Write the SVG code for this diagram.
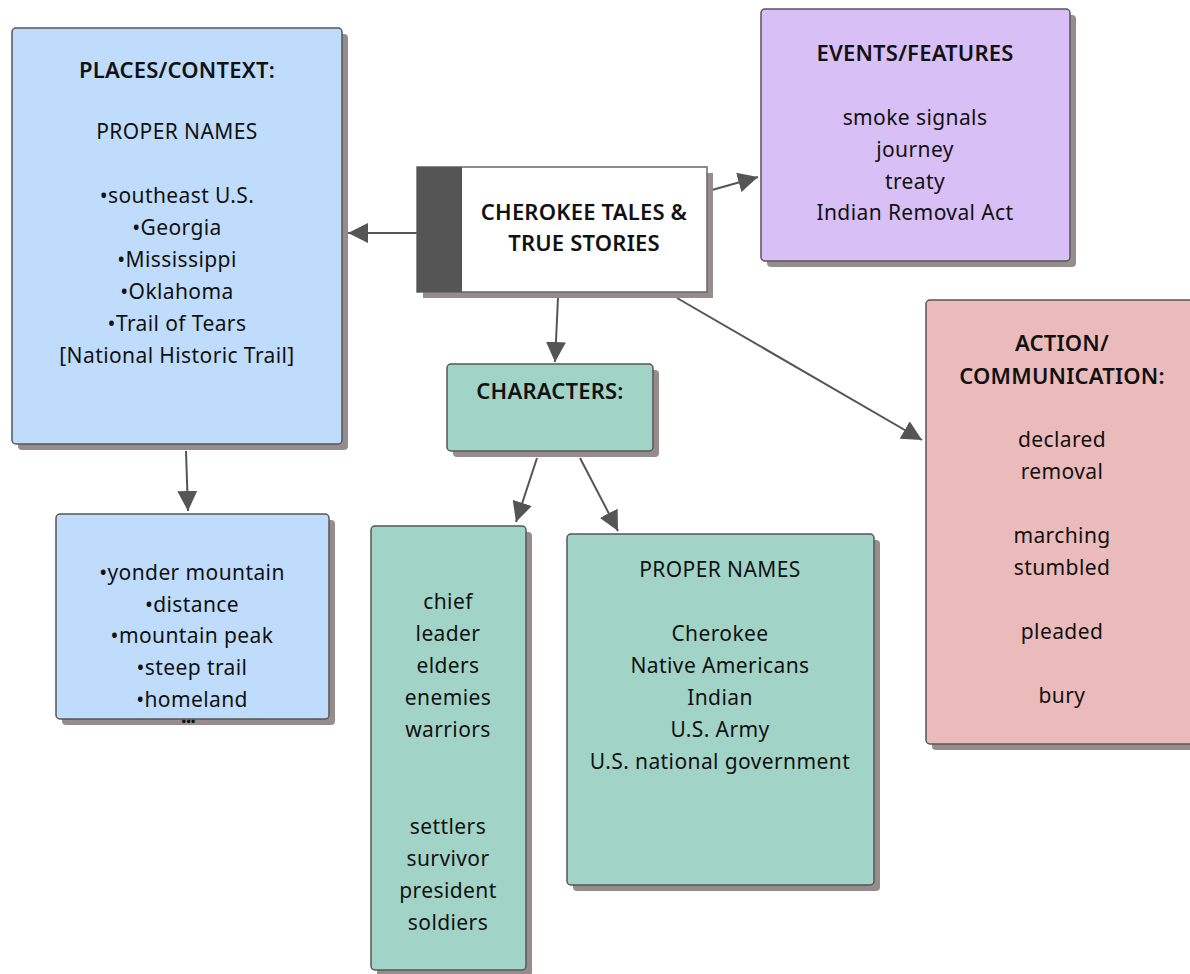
<svg xmlns="http://www.w3.org/2000/svg" width="1190" height="974" viewBox="0 0 1190 974">
<defs>
<marker id="ah" viewBox="0 0 20 20" refX="20" refY="10" markerWidth="20" markerHeight="20" markerUnits="userSpaceOnUse" orient="auto">
<path d="M0,0 L20,10 L0,20 Z" fill="#555"/>
</marker>
</defs>
<style>
.sh{fill:#968c8c}
.box{stroke:#555;stroke-width:1.5}
.t{font-family:"Noto Sans",Lato,sans-serif;font-size:21px;letter-spacing:0.4px;fill:#111;text-anchor:middle}
.h{font-weight:600;font-size:22px;letter-spacing:0.2px}
.c{stroke:#555;stroke-width:2;fill:none;marker-end:url(#ah)}
</style>
<rect width="1190" height="974" fill="#fff"/>
<g id="connectors">
<line class="c" x1="417" y1="233" x2="348" y2="233"/>
<line class="c" x1="712" y1="190" x2="758" y2="177"/>
<line class="c" x1="558" y1="298" x2="555" y2="362"/>
<line class="c" x1="677" y1="298" x2="922" y2="440"/>
<line class="c" x1="186" y1="451" x2="188" y2="511"/>
<line class="c" x1="537" y1="458" x2="516" y2="522"/>
<line class="c" x1="580" y1="458" x2="618" y2="531"/>
</g>
<g id="places">
<rect class="sh" x="18" y="34" width="330" height="416" rx="4"/>
<rect class="box" x="12" y="28" width="330" height="416" rx="4" fill="#bfdcfd"/>
<text class="t h" x="177" y="78">PLACES/CONTEXT:</text>
<text class="t" x="177" y="139">PROPER NAMES</text>
<text class="t" x="177" y="203">•southeast U.S.</text>
<text class="t" x="177" y="235">•Georgia</text>
<text class="t" x="177" y="267">•Mississippi</text>
<text class="t" x="177" y="299">•Oklahoma</text>
<text class="t" x="177" y="331">•Trail of Tears</text>
<text class="t" x="177" y="363">[National Historic Trail]</text>
</g>
<g id="center">
<rect class="sh" x="423" y="173" width="290" height="125"/>
<rect x="417" y="167" width="290" height="125" fill="#fff" stroke="#666" stroke-width="1.5"/>
<rect x="417" y="167" width="45" height="125" fill="#555"/>
<text class="t h" x="584" y="220">CHEROKEE TALES &amp;</text>
<text class="t h" x="584" y="251">TRUE STORIES</text>
</g>
<g id="events">
<rect class="sh" x="767" y="15" width="309" height="252" rx="4"/>
<rect class="box" x="761" y="9" width="309" height="252" rx="4" fill="#d8bff6"/>
<text class="t h" x="915" y="61">EVENTS/FEATURES</text>
<text class="t" x="915" y="125">smoke signals</text>
<text class="t" x="915" y="157">journey</text>
<text class="t" x="915" y="189">treaty</text>
<text class="t" x="915" y="220">Indian Removal Act</text>
</g>
<g id="action">
<rect class="sh" x="932" y="306" width="270" height="444" rx="4"/>
<rect class="box" x="926" y="300" width="270" height="444" rx="4" fill="#ebbaba"/>
<text class="t h" x="1062" y="351">ACTION/</text>
<text class="t h" x="1062" y="384">COMMUNICATION:</text>
<text class="t" x="1062" y="447">declared</text>
<text class="t" x="1062" y="479">removal</text>
<text class="t" x="1062" y="543">marching</text>
<text class="t" x="1062" y="575">stumbled</text>
<text class="t" x="1062" y="639">pleaded</text>
<text class="t" x="1062" y="703">bury</text>
</g>
<g id="characters">
<rect class="sh" x="453" y="370" width="206" height="87" rx="4"/>
<rect class="box" x="447" y="364" width="206" height="87" rx="4" fill="#a1d4c6"/>
<text class="t h" x="550" y="399">CHARACTERS:</text>
</g>
<g id="places-common">
<rect class="sh" x="62" y="520" width="273" height="205" rx="4"/>
<rect class="box" x="56" y="514" width="273" height="205" rx="4" fill="#bfdcfd"/>
<text class="t" x="192" y="580">•yonder mountain</text>
<text class="t" x="192" y="612">•distance</text>
<text class="t" x="192" y="643">•mountain peak</text>
<text class="t" x="192" y="675">•steep trail</text>
<text class="t" x="192" y="707">•homeland</text>
<text class="t" x="188" y="723" style="font-size:20px;font-weight:bold;letter-spacing:-1px">...</text>
</g>
<g id="characters-common">
<rect class="sh" x="377" y="532" width="155" height="444" rx="4"/>
<rect class="box" x="371" y="526" width="155" height="444" rx="4" fill="#a1d4c6"/>
<text class="t" x="448" y="609">chief</text>
<text class="t" x="448" y="641">leader</text>
<text class="t" x="448" y="673">elders</text>
<text class="t" x="448" y="705">enemies</text>
<text class="t" x="448" y="737">warriors</text>
<text class="t" x="448" y="834">settlers</text>
<text class="t" x="448" y="866">survivor</text>
<text class="t" x="448" y="898">president</text>
<text class="t" x="448" y="930">soldiers</text>
</g>
<g id="characters-proper">
<rect class="sh" x="573" y="540" width="307" height="351" rx="4"/>
<rect class="box" x="567" y="534" width="307" height="351" rx="4" fill="#a1d4c6"/>
<text class="t" x="720" y="577">PROPER NAMES</text>
<text class="t" x="720" y="641">Cherokee</text>
<text class="t" x="720" y="673">Native Americans</text>
<text class="t" x="720" y="705">Indian</text>
<text class="t" x="720" y="737">U.S. Army</text>
<text class="t" x="720" y="769">U.S. national government</text>
</g>
</svg>
